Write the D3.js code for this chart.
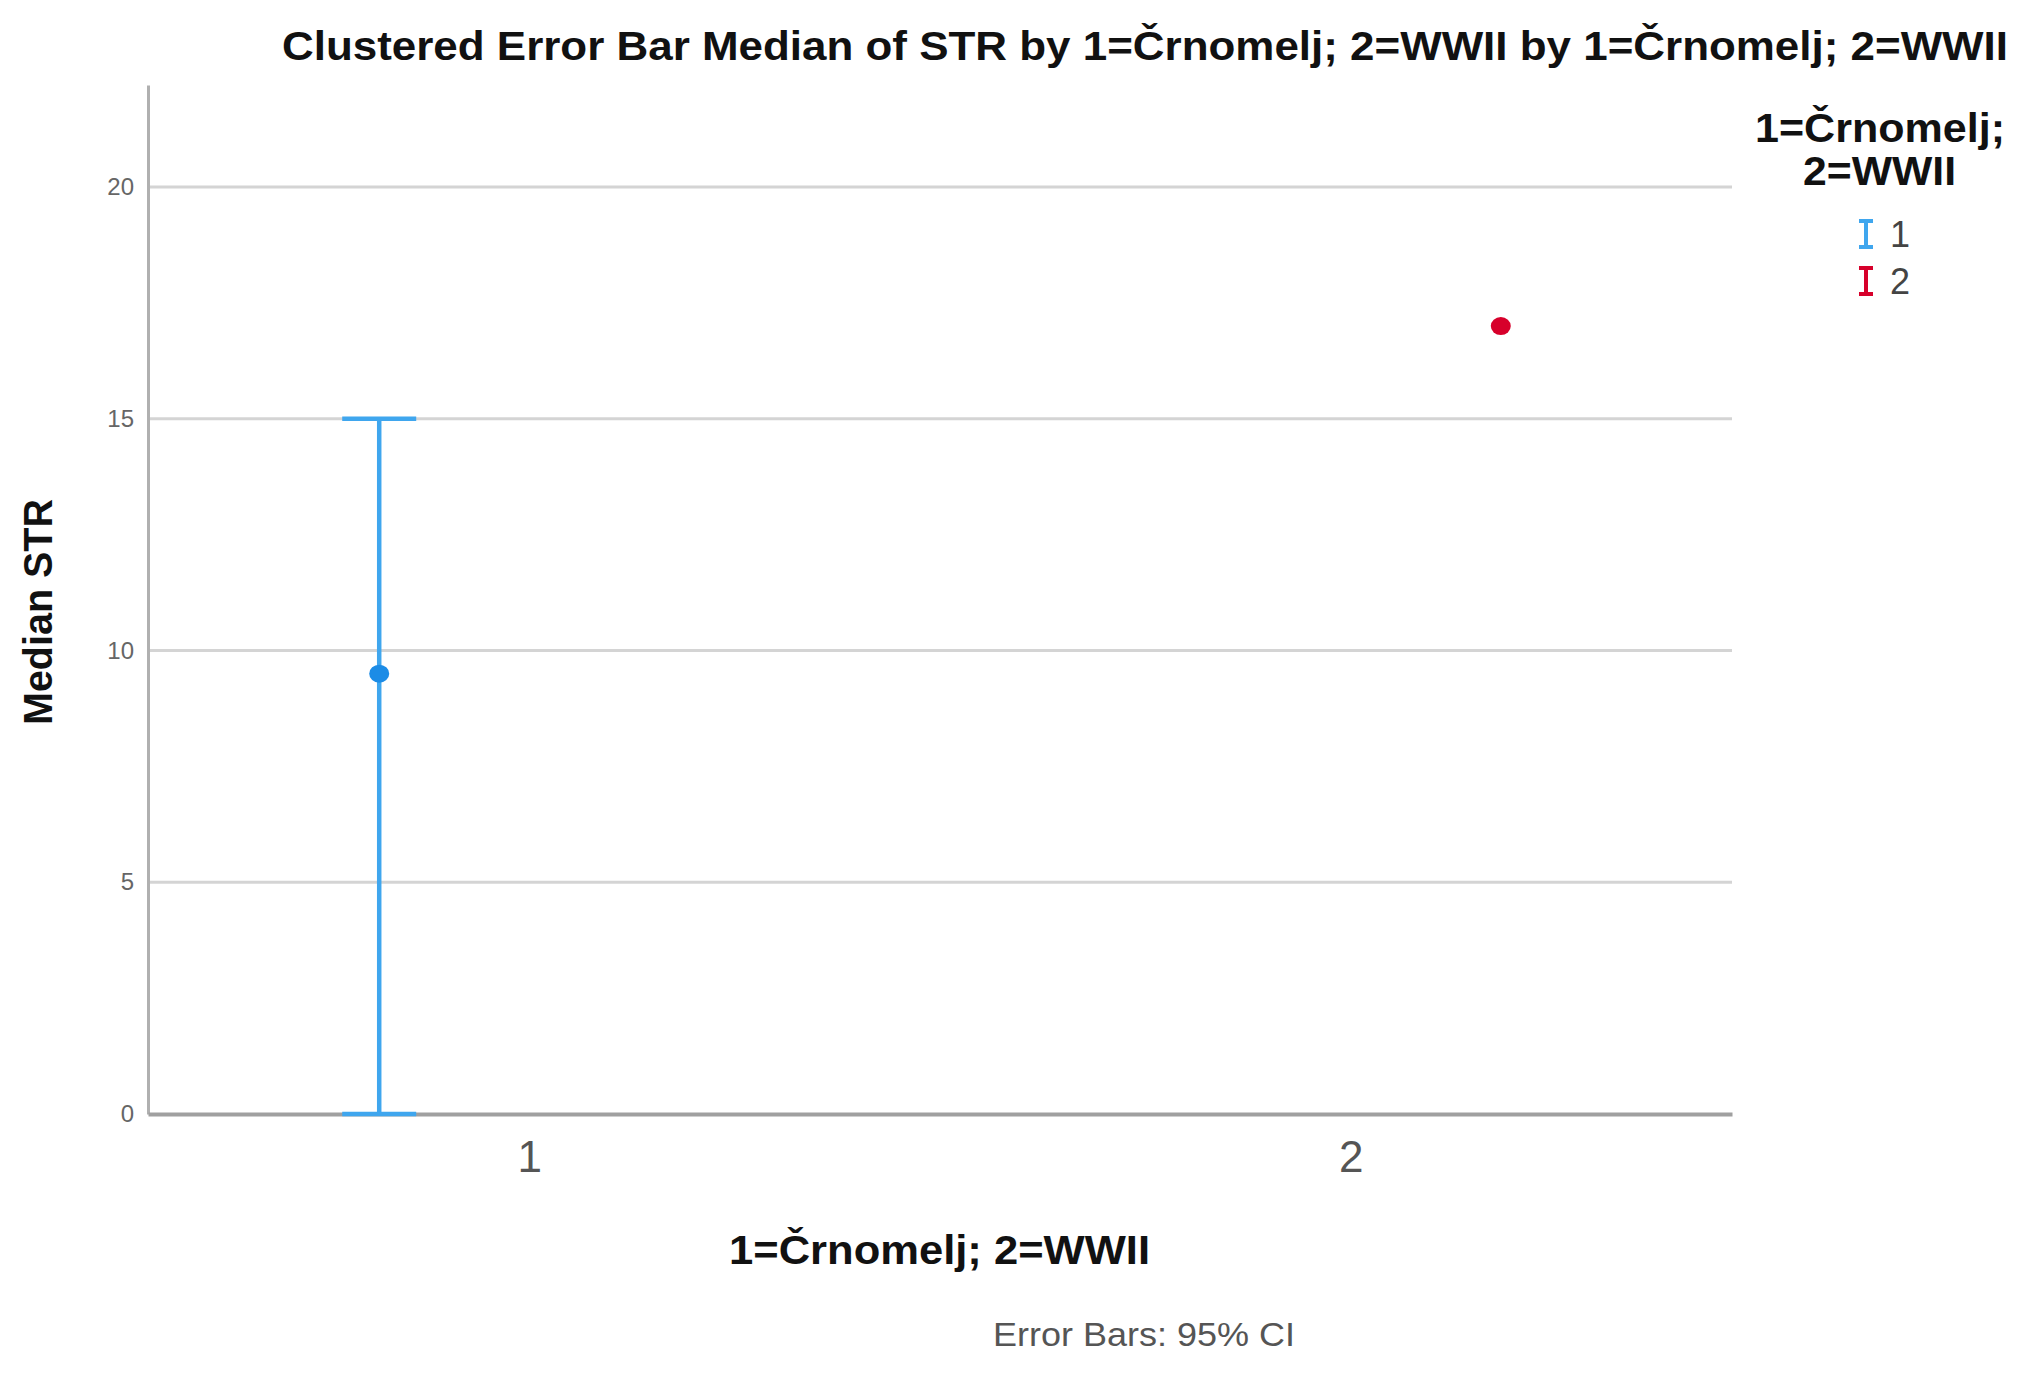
<!DOCTYPE html>
<html>
<head>
<meta charset="utf-8">
<script src="https://cdn.jsdelivr.net/npm/d3@7"></script>
<style>
  body { margin: 0; background: #fff; }
  text { font-family: "Liberation Sans", Arial, sans-serif; }
</style>
</head>
<body>
<div id="chart"></div>
<script>
var width = 2031, height = 1383;

// data
var categories = ["1", "2"];
var groups = ["1", "2"];
var pointCategory = ["1", "2"];
var pointGroup = ["1", "2"];
var medians = [9.5, 17];
var ciLower = [0, null];
var ciUpper = [15, null];
var yTicks = [0, 5, 10, 15, 20];
var groupColors = ["#3fa6ee", "#d7002b"];
var pointColors = ["#1c8ce6", "#d7002b"];

var margin = {left: 148, right: 299, top: 85, bottom: 269};

var svg = d3.select('#chart').append('svg')
  .attr('width', width)
  .attr('height', height)
  .style('background-color', 'white');

var y = d3.scaleLinear().domain([0, 22.2]).range([height - margin.bottom, margin.top]);
var x = d3.scalePoint().domain(categories).range([margin.left, width - margin.right]).padding(0.464);
var offset = d3.scalePoint().domain(groups).range([-150, 150]);
var color = d3.scaleOrdinal().domain(groups).range(groupColors);
var dotColor = d3.scaleOrdinal().domain(groups).range(pointColors);

// gridlines
svg.selectAll("line.grid")
  .data(yTicks.filter(function(d) { return d > 0; }))
  .enter().append("line")
  .attr("class", "grid")
  .attr("x1", margin.left).attr("x2", width - margin.right)
  .attr("y1", function(d) { return y(d); })
  .attr("y2", function(d) { return y(d); })
  .style("stroke", "#d4d4d4")
  .style("stroke-width", 3);

// y axis
var yAxis = svg.append("g")
  .attr("transform", "translate(" + margin.left + ",0)")
  .call(d3.axisLeft(y).tickValues(yTicks).tickSize(0).tickPadding(14));
yAxis.select(".domain").style("stroke", "#b0b0b0").style("stroke-width", 3);
yAxis.selectAll("text")
  .style("font-size", "24px")
  .style("fill", "#666")
  .style("font-family", "'Liberation Sans', Arial, sans-serif");

// x axis
var xAxis = svg.append("g")
  .attr("transform", "translate(0," + y(0) + ")")
  .call(d3.axisBottom(x).tickSize(0).tickPadding(27));
xAxis.select(".domain").style("stroke", "#a0a0a0").style("stroke-width", 4);
xAxis.selectAll("text")
  .style("font-size", "44px")
  .style("fill", "#555")
  .style("font-family", "'Liberation Sans', Arial, sans-serif");

// error bars
var points = medians.map(function(m, i) {
  return {cat: pointCategory[i], grp: pointGroup[i], med: m, lo: ciLower[i], hi: ciUpper[i]};
});
var bars = points.filter(function(d) { return d.lo !== null && d.hi !== null; });
var capHalf = 37;

var eb = svg.selectAll("g.eb").data(bars).enter().append("g").attr("class", "eb");
eb.append("line")
  .attr("x1", function(d) { return x(d.cat) + offset(d.grp); })
  .attr("x2", function(d) { return x(d.cat) + offset(d.grp); })
  .attr("y1", function(d) { return y(d.lo); })
  .attr("y2", function(d) { return y(d.hi); })
  .style("stroke", function(d) { return color(d.grp); })
  .style("stroke-width", 4.5);
["lo", "hi"].forEach(function(k) {
  eb.append("line")
    .attr("x1", function(d) { return x(d.cat) + offset(d.grp) - capHalf; })
    .attr("x2", function(d) { return x(d.cat) + offset(d.grp) + capHalf; })
    .attr("y1", function(d) { return y(d[k]); })
    .attr("y2", function(d) { return y(d[k]); })
    .style("stroke", function(d) { return color(d.grp); })
    .style("stroke-width", 4.5);
});

svg.selectAll("ellipse.pt")
  .data(points)
  .enter().append("ellipse")
  .attr("class", "pt")
  .attr("cx", function(d) { return x(d.cat) + offset(d.grp); })
  .attr("cy", function(d) { return y(d.med); })
  .attr("rx", 10)
  .attr("ry", 9)
  .style("fill", function(d) { return dotColor(d.grp); });

// titles
svg.append("text")
  .attr("x", 282).attr("y", 60)
  .attr("textLength", 1726).attr("lengthAdjust", "spacingAndGlyphs")
  .style("font-size", "40px").style("font-weight", "bold").style("fill", "#111")
  .text("Clustered Error Bar Median of STR by 1=Črnomelj; 2=WWII by 1=Črnomelj; 2=WWII");

svg.append("text")
  .attr("transform", "translate(52," + 612 + ") rotate(-90)")
  .attr("text-anchor", "middle")
  .attr("textLength", 226).attr("lengthAdjust", "spacingAndGlyphs")
  .style("font-size", "40px").style("font-weight", "bold").style("fill", "#111")
  .text("Median STR");

svg.append("text")
  .attr("x", 729).attr("y", 1264)
  .attr("textLength", 421).attr("lengthAdjust", "spacingAndGlyphs")
  .style("font-size", "40px").style("font-weight", "bold").style("fill", "#111")
  .text("1=Črnomelj; 2=WWII");

svg.append("text")
  .attr("x", 993).attr("y", 1346)
  .attr("textLength", 302).attr("lengthAdjust", "spacingAndGlyphs")
  .style("font-size", "33px").style("fill", "#555")
  .text("Error Bars: 95% CI");

// legend
svg.append("text")
  .attr("x", 1755).attr("y", 142)
  .attr("textLength", 250).attr("lengthAdjust", "spacingAndGlyphs")
  .style("font-size", "40px").style("font-weight", "bold").style("fill", "#111")
  .text("1=Črnomelj;");
svg.append("text")
  .attr("x", 1803).attr("y", 185)
  .attr("textLength", 153).attr("lengthAdjust", "spacingAndGlyphs")
  .style("font-size", "40px").style("font-weight", "bold").style("fill", "#111")
  .text("2=WWII");

var legend = svg.selectAll("g.leg").data(groups).enter().append("g")
  .attr("class", "leg")
  .attr("transform", function(d, i) { return "translate(1866," + (234 + i * 47) + ")"; });
legend.append("path")
  .attr("d", "M-7,-13H7M0,-13V13M-7,13H7")
  .style("stroke", function(d) { return color(d); })
  .style("stroke-width", 4)
  .style("fill", "none");
legend.append("text")
  .attr("x", 24).attr("y", 13)
  .style("font-size", "36px").style("fill", "#444")
  .text(function(d) { return d; });
</script>
</body>
</html>
